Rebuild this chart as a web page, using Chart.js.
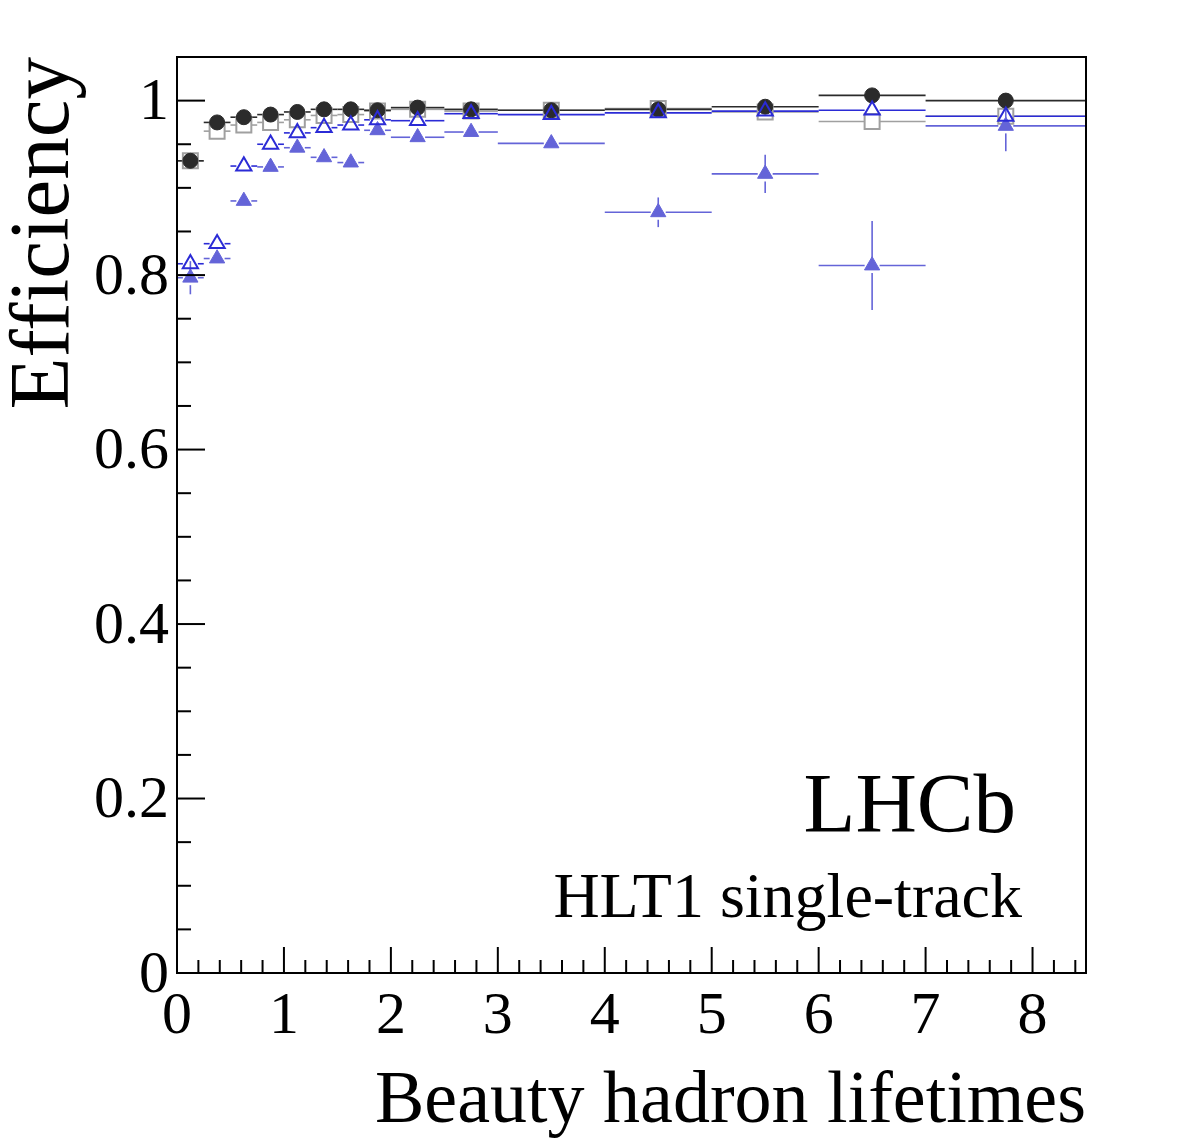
<!DOCTYPE html>
<html>
<head>
<meta charset="utf-8">
<title>HLT1 single-track efficiency</title>
<script src="https://cdn.jsdelivr.net/npm/chart.js@4.4.1/dist/chart.umd.min.js"></script>
<style>
  html, body { margin: 0; padding: 0; background: #fff; }
  #wrap { width: 1182px; height: 1146px; position: relative; }
</style>
</head>
<body>
<div id="wrap"><canvas id="effChart"></canvas></div>
<script>
// ---- data ----
const binCenters = [0.125, 0.375, 0.625, 0.875, 1.125, 1.375, 1.625, 1.875, 2.25, 2.75, 3.5, 4.5, 5.5, 6.5, 7.75];
const binLow     = [0, 0.25, 0.5, 0.75, 1.0, 1.25, 1.5, 1.75, 2.0, 2.5, 3.0, 4.0, 5.0, 6.0, 7.0];
const binHigh    = [0.25, 0.5, 0.75, 1.0, 1.25, 1.5, 1.75, 2.0, 2.5, 3.0, 4.0, 5.0, 6.0, 7.0, 8.5];

// black filled circles
const effCircle    = [0.931, 0.975, 0.981, 0.984, 0.987, 0.990, 0.990, 0.989, 0.992, 0.990, 0.989, 0.990, 0.993, 1.006, 1.000];
const errCircle    = [0, 0, 0, 0, 0, 0, 0, 0, 0, 0, 0, 0, 0, 0, 0];
// grey open squares
const effSquare    = [0.931, 0.965, 0.972, 0.975, 0.978, 0.983, 0.984, 0.988, 0.990, 0.988, 0.989, 0.991, 0.987, 0.976, 0.982];
const errSquare    = [0, 0, 0, 0, 0, 0, 0, 0, 0, 0, 0, 0, 0, 0.006, 0];
// blue open triangles
const effOpenTri   = [0.813, 0.836, 0.925, 0.950, 0.963, 0.969, 0.972, 0.978, 0.977, 0.985, 0.984, 0.986, 0.988, 0.989, 0.982];
const errOpenTri   = [0.004, 0.003, 0, 0, 0, 0, 0, 0, 0, 0, 0, 0, 0, 0, 0];
// light blue filled triangles
const effFillTri   = [0.797, 0.819, 0.885, 0.924, 0.946, 0.935, 0.929, 0.966, 0.958, 0.964, 0.951, 0.872, 0.916, 0.811, 0.971];
const errFillTri   = [0.019, 0.006, 0.004, 0.004, 0.004, 0.004, 0.004, 0.004, 0.004, 0.004, 0.004, 0.017, 0.022, 0.051, 0.029];

const xTickVals = [0, 1, 2, 3, 4, 5, 6, 7, 8];
const yTickVals = [0, 0.2, 0.4, 0.6, 0.8, 1.0];

// ---- look ----
const FONT = '"Liberation Serif", "Times New Roman", serif';
const styles = [
  // first one is drawn on top
  { label: 'open triangles',   eff: effOpenTri, err: errOpenTri, color: '#2b2bd6', shape: 'triangle', r: 8.8, fill: false },
  { label: 'filled triangles', eff: effFillTri, err: errFillTri, color: '#6464d8', shape: 'triangle', r: 8.8, fill: true },
  { label: 'circles',          eff: effCircle,  err: errCircle,  color: '#2b2b2b', shape: 'circle',   r: 7.5, fill: true },
  { label: 'squares',          eff: effSquare,  err: errSquare,  color: '#a0a0a0', shape: 'rect',     r: 10.6, fill: false }
];

function line(ctx, x1, y1, x2, y2) {
  ctx.beginPath();
  ctx.moveTo(x1, y1);
  ctx.lineTo(x2, y2);
  ctx.stroke();
}

// ROOT style error bars, with a gap where the marker sits
const errorBars = {
  id: 'errorBars',
  beforeDatasetsDraw(chart) {
    const { ctx, chartArea: a, scales: { x, y } } = chart;
    ctx.save();
    ctx.beginPath();
    ctx.rect(a.left, a.top, a.right - a.left, a.bottom - a.top);
    ctx.clip();
    ctx.lineWidth = 1.6;
    for (let s = styles.length - 1; s >= 0; s--) {
      const st = styles[s];
      const gap = st.shape === 'rect' ? st.r * Math.SQRT1_2 : st.r * 0.85;
      ctx.strokeStyle = st.color;
      st.eff.forEach((v, i) => {
        const xc = x.getPixelForValue(binCenters[i]);
        const xl = x.getPixelForValue(binLow[i]);
        const xh = x.getPixelForValue(binHigh[i]);
        const yc = y.getPixelForValue(v);
        if (xc - gap > xl) line(ctx, xl, yc, xc - gap, yc);
        if (xc + gap < xh) line(ctx, xc + gap, yc, xh, yc);
        const e = st.err[i];
        if (e > 0) {
          const yt = y.getPixelForValue(v + e);
          const yb = y.getPixelForValue(v - e);
          if (yc - gap > yt) line(ctx, xc, yt, xc, yc - gap);
          if (yc + gap < yb) line(ctx, xc, yc + gap, xc, yb);
        }
      });
    }
    ctx.restore();
  }
};

// frame, inward ticks, titles and labels
const rootFrame = {
  id: 'rootFrame',
  afterDraw(chart) {
    const { ctx, chartArea: a, scales: { x, y } } = chart;
    ctx.save();
    ctx.strokeStyle = '#000';
    ctx.lineWidth = 2;
    ctx.strokeRect(a.left, a.top, a.right - a.left, a.bottom - a.top);

    // x ticks every 0.2
    for (let k = 0; k <= 42; k++) {
      const v = k / 5;
      const px = x.getPixelForValue(v);
      const len = (k % 5 === 0) ? 26 : 13;
      line(ctx, px, a.bottom, px, a.bottom - len);
    }
    // y ticks every 0.05
    for (let k = 0; k <= 20; k++) {
      const v = k / 20;
      const py = y.getPixelForValue(v);
      const len = (k % 4 === 0) ? 28 : 14;
      line(ctx, a.left, py, a.left + len, py);
    }

    ctx.fillStyle = '#000';
    // y title
    ctx.save();
    ctx.font = '85px ' + FONT;
    ctx.translate(68, a.top);
    ctx.rotate(-Math.PI / 2);
    ctx.textAlign = 'right';
    ctx.textBaseline = 'alphabetic';
    ctx.fillText('Efficiency', 0, 0);
    ctx.restore();

    // x title
    ctx.font = '74px ' + FONT;
    ctx.textAlign = 'right';
    ctx.textBaseline = 'alphabetic';
    ctx.fillText('Beauty hadron lifetimes', a.right, 1122);

    // labels inside the frame
    ctx.font = '85px ' + FONT;
    ctx.fillText('LHCb', 1016, 832);
    ctx.font = '64px ' + FONT;
    ctx.fillText('HLT1 single-track', 1022, 917);
    ctx.restore();
  }
};

const datasets = styles.map((st) => ({
  label: st.label,
  data: binCenters.map((c, i) => ({ x: c, y: st.eff[i] })),
  showLine: false,
  pointStyle: st.shape,
  pointRadius: st.r,
  pointHoverRadius: st.r,
  pointBorderWidth: st.fill ? 1 : 2,
  pointBorderColor: st.color,
  pointBackgroundColor: st.fill ? st.color : 'rgba(0,0,0,0)'
}));

new Chart(document.getElementById('effChart'), {
  type: 'scatter',
  data: { datasets: datasets },
  options: {
    responsive: true,
    maintainAspectRatio: false,
    animation: false,
    layout: { padding: { top: 57, right: 96, left: 0, bottom: 0 } },
    plugins: { legend: { display: false }, tooltip: { enabled: false } },
    scales: {
      x: {
        type: 'linear',
        min: 0,
        max: 8.5,
        grid: { display: false, drawTicks: false },
        border: { display: false },
        afterBuildTicks: (scale) => { scale.ticks = xTickVals.map(v => ({ value: v })); },
        afterFit: (scale) => { scale.height = 173; },
        ticks: {
          padding: 8,
          color: '#000',
          font: { family: FONT, size: 60 },
          maxRotation: 0,
          callback: (v) => String(v)
        }
      },
      y: {
        type: 'linear',
        min: 0,
        max: 1.05,
        grid: { display: false, drawTicks: false },
        border: { display: false },
        afterBuildTicks: (scale) => { scale.ticks = yTickVals.map(v => ({ value: v })); },
        afterFit: (scale) => { scale.width = 177; },
        ticks: {
          padding: 8,
          labelOffset: 3,
          color: '#000',
          font: { family: FONT, size: 60 },
          callback: (v) => (v === 0 ? '0' : (Math.abs(v - 1) < 1e-9 ? '1' : v.toFixed(1)))
        }
      }
    }
  },
  plugins: [errorBars, rootFrame]
});
</script>
</body>
</html>
